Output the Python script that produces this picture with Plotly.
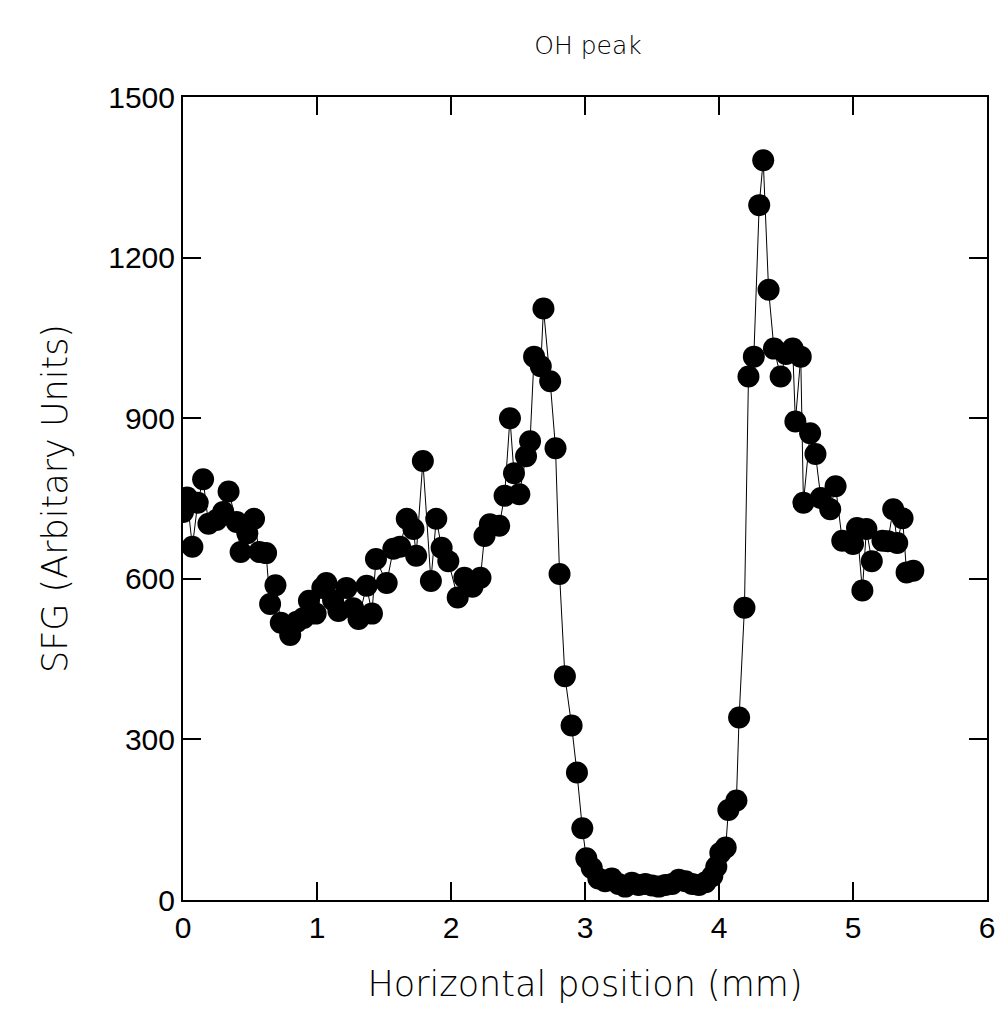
import plotly.graph_objects as go

position_mm = [
    0.00, 0.03, 0.07, 0.11, 0.15, 0.19, 0.25, 0.30, 0.34, 0.40,
    0.43, 0.48, 0.53, 0.57, 0.62, 0.65, 0.69, 0.73, 0.80, 0.85,
    0.90, 0.94, 0.99, 1.04, 1.07, 1.12, 1.16, 1.22, 1.27, 1.31,
    1.37, 1.41, 1.44, 1.52, 1.57, 1.62, 1.67, 1.72, 1.74, 1.79,
    1.85, 1.89, 1.93, 1.98, 2.05, 2.10, 2.16, 2.22, 2.25, 2.29,
    2.36, 2.40, 2.44, 2.47, 2.51, 2.56, 2.59, 2.62, 2.67, 2.69,
    2.74, 2.78, 2.81, 2.85, 2.90, 2.94, 2.98, 3.01, 3.05, 3.10,
    3.15, 3.20, 3.25, 3.30, 3.35, 3.40, 3.45, 3.50, 3.55, 3.60,
    3.65, 3.70, 3.75, 3.80, 3.85, 3.90, 3.95, 3.98, 4.01, 4.05,
    4.07, 4.13, 4.15, 4.19, 4.22, 4.26, 4.30, 4.33, 4.37, 4.41,
    4.46, 4.50, 4.55, 4.57, 4.61, 4.63, 4.68, 4.72, 4.76, 4.83,
    4.87, 4.92, 5.00, 5.03, 5.07, 5.10, 5.14, 5.22, 5.26, 5.30,
    5.33, 5.37, 5.40, 5.45,
]

sfg_signal = [
    725, 752, 660, 742, 786, 703, 710, 725, 763, 706,
    650, 685, 712, 650, 648, 553, 588, 518, 495, 520,
    527, 559, 535, 583, 592, 560, 540, 583, 545, 525,
    587, 535, 637, 592, 656, 660, 712, 693, 643, 820,
    596, 712, 658, 633, 565, 602, 585, 602, 680, 702,
    699, 755, 900, 797, 758, 829, 857, 1015, 997, 1105,
    969, 844, 609, 418, 326, 238, 134, 78, 60, 40,
    35, 40, 30, 25, 32, 28, 30, 27, 25, 28,
    30, 38, 35, 30, 28, 33, 45, 62, 88, 98,
    168, 186, 341, 546, 978, 1015, 1298, 1382, 1140, 1030,
    978, 1020, 1030, 894, 1015, 742, 872, 833, 751, 730,
    773, 671, 665, 695, 578, 693, 633, 671, 670, 730,
    667, 713, 612, 615,
]

x_ticks = [0, 1, 2, 3, 4, 5, 6]
y_ticks = [0, 300, 600, 900, 1200, 1500]

TICK_FONT = "Liberation Sans Narrow, Liberation Sans, Arial, sans-serif"
TEXT_FONT = "DejaVu Sans, Verdana, sans-serif"

fig = go.Figure(
    go.Scatter(
        x=position_mm,
        y=sfg_signal,
        mode="lines+markers",
        line=dict(color="black", width=1),
        marker=dict(color="black", size=22, line=dict(width=0)),
        showlegend=False,
    )
)

axis_common = dict(
    showgrid=False,
    zeroline=False,
    showline=True,
    linecolor="black",
    linewidth=2,
    mirror="ticks",
    ticks="inside",
    ticklen=18,
    tickwidth=1.5,
    tickcolor="black",
    tickfont=dict(family=TICK_FONT, size=30, color="black"),
)

fig.update_layout(
    width=1007,
    height=1025,
    margin=dict(l=183, r=14, t=97, b=125),
    paper_bgcolor="white",
    plot_bgcolor="white",
    title=dict(
        text="OH peak",
        font=dict(family=TEXT_FONT, size=25, color="black", weight=300),
        x=(183 + 993) / 2 / 1007,
        xanchor="center",
        y=1 - 45 / 1025,
        yanchor="middle",
    ),
    xaxis=dict(
        range=[0, 6],
        tickvals=x_ticks,
        ticktext=[str(v) for v in x_ticks],
        title=dict(text="Horizontal position (mm)",
                   font=dict(family=TEXT_FONT, size=35, color="black", weight=300),
                   standoff=28),
        **axis_common,
    ),
    yaxis=dict(
        range=[0, 1500],
        tickvals=y_ticks,
        ticktext=[str(v) for v in y_ticks],
        title=dict(text="SFG (Arbitary Units)",
                   font=dict(family=TEXT_FONT, size=35, color="black", weight=300),
                   standoff=30),
        **axis_common,
    ),
)

fig.write_html("out.html")
